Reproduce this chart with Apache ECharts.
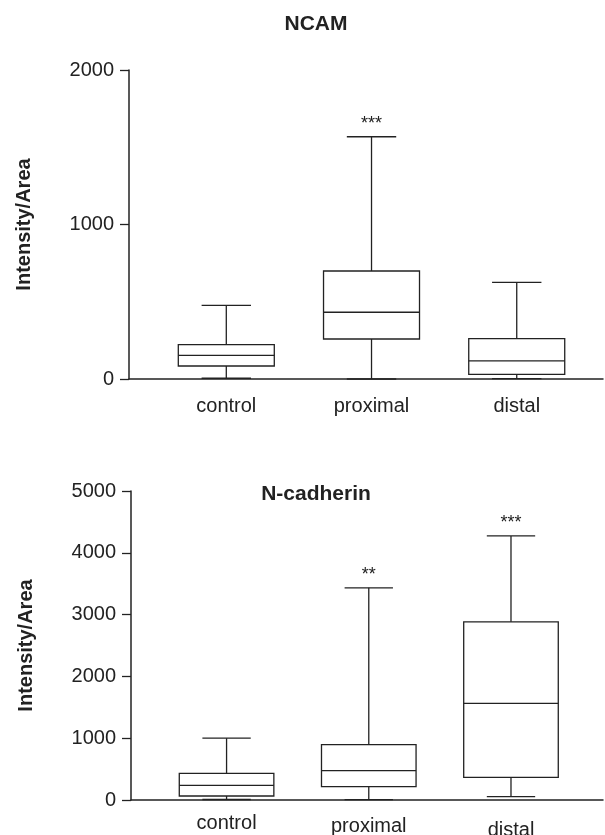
<!DOCTYPE html>
<html>
<head>
<meta charset="utf-8">
<script src="https://cdn.jsdelivr.net/npm/echarts@6/dist/echarts.min.js"></script>
<style>
html,body{margin:0;padding:0;background:#fff;}
#chart{width:605px;height:835px;}
</style>
</head>
<body>
<div id="chart"></div>
<script>
// ---- data ----
const categories = ['control', 'proximal', 'distal'];

const ncamMin = [5, 0, 2];
const ncamQ1 = [84, 259, 30];
const ncamMedian = [153, 432, 117];
const ncamQ3 = [222, 699, 261];
const ncamMax = [477, 1568, 626];
const ncamStars = ['', '***', ''];
const ncamTicks = [0, 1000, 2000];

const ncadMin = [8, 5, 54];
const ncadQ1 = [65, 216, 367];
const ncadMedian = [237, 474, 1563];
const ncadQ3 = [431, 895, 2883];
const ncadMax = [1000, 3433, 4273];
const ncadStars = ['', '**', '***'];
const ncadTicks = [0, 1000, 2000, 3000, 4000, 5000];

const titles = ['NCAM', 'N-cadherin'];
const yName = 'Intensity/Area';

// ---- build ----
const INK = '#222';
const FONT = '"Liberation Sans", Arial, Helvetica, sans-serif';

function rows(mn, q1, md, q3, mx) {
  return categories.map((c, i) => [i + 1, mn[i], q1[i], md[i], q3[i], mx[i]]);
}

function makeRender(stars, boxW, capW) {
  return function (params, api) {
    const x = api.value(0);
    const pLo = api.coord([x, api.value(1)]);
    const pQ1 = api.coord([x, api.value(2)]);
    const pMd = api.coord([x, api.value(3)]);
    const pQ3 = api.coord([x, api.value(4)]);
    const pHi = api.coord([x, api.value(5)]);
    const hb = api.size([boxW, 0])[0] / 2;
    const hc = api.size([capW, 0])[0] / 2;
    const cx = pMd[0];
    const ls = { stroke: INK, lineWidth: 1.3, fill: null };
    const ch = [
      { type: 'rect', shape: { x: cx - hb, y: pQ3[1], width: 2 * hb, height: pQ1[1] - pQ3[1] }, style: { stroke: INK, lineWidth: 1.3, fill: '#fff' } },
      { type: 'line', shape: { x1: cx - hb, y1: pMd[1], x2: cx + hb, y2: pMd[1] }, style: ls },
      { type: 'line', shape: { x1: cx, y1: pQ3[1], x2: cx, y2: pHi[1] }, style: ls },
      { type: 'line', shape: { x1: cx - hc, y1: pHi[1], x2: cx + hc, y2: pHi[1] }, style: ls },
      { type: 'line', shape: { x1: cx, y1: pQ1[1], x2: cx, y2: pLo[1] }, style: ls },
      { type: 'line', shape: { x1: cx - hc, y1: pLo[1], x2: cx + hc, y2: pLo[1] }, style: ls }
    ];
    const s = stars[params.dataIndex];
    if (s) {
      ch.push({ type: 'text', style: { text: s, x: cx, y: pHi[1] - 13, align: 'center', verticalAlign: 'middle', fill: INK, font: '18px ' + FONT } });
    }
    return { type: 'group', children: ch };
  };
}

function yAxis(gi, ticks) {
  return {
    type: 'value', gridIndex: gi, min: ticks[0], max: ticks[ticks.length - 1], interval: ticks[1] - ticks[0],
    name: yName, nameLocation: 'middle', nameGap: 95, nameRotate: 90,
    nameTextStyle: { fontFamily: FONT, fontSize: 20, fontWeight: 'bold', color: INK },
    axisLine: { show: true, lineStyle: { color: INK, width: 1.5 } },
    axisTick: { show: true, inside: false, length: 9, lineStyle: { color: INK, width: 1.3 } },
    axisLabel: { fontFamily: FONT, fontSize: 20, color: INK, margin: 15, formatter: function (v) { return String(v); } },
    splitLine: { show: false }
  };
}

function xAxis(gi, min, max, margin, rich) {
  return {
    type: 'value', gridIndex: gi, min: min, max: max,
    axisLine: { show: true, onZero: false, lineStyle: { color: INK, width: 1.5 } },
    axisTick: { show: false },
    splitLine: { show: false },
    axisLabel: {
      customValues: [1, 2, 3],
      margin: margin,
      fontFamily: FONT, fontSize: 20, color: INK,
      formatter: function (v) {
        const i = Math.round(v) - 1;
        const k = ['a', 'b', 'c'][i];
        return rich ? '{' + k + '|' + categories[i] + '}' : categories[i];
      },
      rich: rich || {}
    }
  };
}

const chart = echarts.init(document.getElementById('chart'), null, { renderer: 'canvas' });
chart.setOption({
  animation: false,
  backgroundColor: '#fff',
  grid: [
    { left: 129, top: 70, width: 474, height: 309, containLabel: false, outerBoundsMode: 'none' },
    { left: 131, top: 491, width: 472, height: 309, containLabel: false, outerBoundsMode: 'none' }
  ],
  xAxis: [
    xAxis(0, 0.33, 3.594, 17, null),
    xAxis(1, 0.328, 3.647, 13, {
      a: { fontFamily: FONT, fontSize: 20, color: INK, padding: [0, 0, 0, 0] },
      b: { fontFamily: FONT, fontSize: 20, color: INK, padding: [3, 0, 0, 0] },
      c: { fontFamily: FONT, fontSize: 20, color: INK, padding: [7, 0, 0, 0] }
    })
  ],
  yAxis: [yAxis(0, ncamTicks), yAxis(1, ncadTicks)],
  graphic: [
    { type: 'text', x: 316, y: 24, style: { text: titles[0], align: 'center', verticalAlign: 'middle', fill: INK, font: 'bold 21px ' + FONT } },
    { type: 'text', x: 316, y: 494, style: { text: titles[1], align: 'center', verticalAlign: 'middle', fill: INK, font: 'bold 21px ' + FONT } }
  ],
  series: [
    {
      type: 'custom', xAxisIndex: 0, yAxisIndex: 0, clip: false,
      encode: { x: 0, y: [1, 2, 3, 4, 5] },
      renderItem: makeRender(ncamStars, 0.661, 0.34),
      data: rows(ncamMin, ncamQ1, ncamMedian, ncamQ3, ncamMax)
    },
    {
      type: 'custom', xAxisIndex: 1, yAxisIndex: 1, clip: false,
      encode: { x: 0, y: [1, 2, 3, 4, 5] },
      renderItem: makeRender(ncadStars, 0.665, 0.34),
      data: rows(ncadMin, ncadQ1, ncadMedian, ncadQ3, ncadMax)
    }
  ]
});
</script>
</body>
</html>
